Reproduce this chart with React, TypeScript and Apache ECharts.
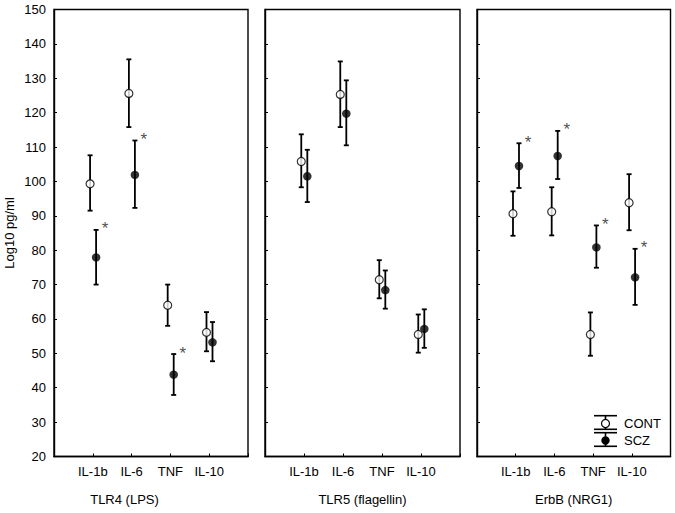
import React, { useEffect, useRef } from "react";
import * as echarts from "echarts";

const categories = ["IL-1b", "IL-6", "TNF", "IL-10"];
const panelTitles = ["TLR4 (LPS)", "TLR5 (flagellin)", "ErbB (NRG1)"];
const yAxisName = "Log10 pg/ml";
const legendNames = ["CONT", "SCZ"];

// TLR4 (LPS)
const tlr4ContMean = [99.3, 125.6, 64.0, 56.1];
const tlr4ContLow = [91.5, 115.8, 58.0, 50.6];
const tlr4ContHigh = [107.6, 135.5, 70.0, 62.0];
const tlr4SczMean = [77.9, 101.9, 43.8, 53.2];
const tlr4SczLow = [70.0, 92.3, 37.9, 47.7];
const tlr4SczHigh = [85.9, 111.9, 49.8, 59.1];
const tlr4Sig = [true, true, true, false];

// TLR5 (flagellin)
const tlr5ContMean = [105.8, 125.3, 71.4, 55.5];
const tlr5ContLow = [98.3, 115.8, 66.0, 50.2];
const tlr5ContHigh = [113.7, 134.9, 77.1, 61.3];
const tlr5SczMean = [101.5, 119.7, 68.4, 57.1];
const tlr5SczLow = [94.0, 110.5, 63.0, 51.6];
const tlr5SczHigh = [109.2, 129.4, 74.1, 62.8];
const tlr5Sig = [false, false, false, false];

// ErbB (NRG1)
const erbbContMean = [90.6, 91.2, 55.5, 93.8];
const erbbContLow = [84.2, 84.3, 49.3, 85.8];
const erbbContHigh = [97.1, 98.3, 61.9, 102.1];
const erbbSczMean = [104.5, 107.4, 80.8, 72.1];
const erbbSczLow = [98.1, 100.7, 74.9, 64.1];
const erbbSczHigh = [111.1, 114.7, 87.2, 80.4];
const erbbSig = [true, true, true, true];

const panels = [
  { cm: tlr4ContMean, cl: tlr4ContLow, ch: tlr4ContHigh, sm: tlr4SczMean, sl: tlr4SczLow, sh: tlr4SczHigh, sig: tlr4Sig },
  { cm: tlr5ContMean, cl: tlr5ContLow, ch: tlr5ContHigh, sm: tlr5SczMean, sl: tlr5SczLow, sh: tlr5SczHigh, sig: tlr5Sig },
  { cm: erbbContMean, cl: erbbContLow, ch: erbbContHigh, sm: erbbSczMean, sl: erbbSczLow, sh: erbbSczHigh, sig: erbbSig },
];

const FONT = '"Liberation Sans", Arial, Helvetica, sans-serif';
const CONT_OFF = -0.07;
const SCZ_OFF = 0.085;

const gridBoxes = [
  { left: 54, width: 194 },
  { left: 265, width: 195 },
  { left: 477, width: 193.5 },
];

function errorBarRender(params: any, api: any) {
  const x = api.value(0);
  const lo = api.coord([x, api.value(1)]);
  const hi = api.coord([x, api.value(2)]);
  const w = 2.5;
  const style = { stroke: "#000", lineWidth: 1.8 };
  return {
    type: "group",
    children: [
      { type: "line", shape: { x1: lo[0], y1: lo[1], x2: hi[0], y2: hi[1] }, style },
      { type: "line", shape: { x1: lo[0] - w, y1: lo[1], x2: lo[0] + w, y2: lo[1] }, style },
      { type: "line", shape: { x1: hi[0] - w, y1: hi[1], x2: hi[0] + w, y2: hi[1] }, style },
    ],
  };
}

export default function App() {
  const ref = useRef<HTMLDivElement>(null);
  useEffect(() => {
    if (!ref.current) return;
    const chart = echarts.init(ref.current, null, { renderer: "svg" });

    const grid: any[] = [];
    const xAxis: any[] = [];
    const yAxis: any[] = [];
    const series: any[] = [];

    panels.forEach((p, k) => {
      grid.push({
        left: gridBoxes[k].left,
        width: gridBoxes[k].width,
        top: 9.5,
        bottom: 56.5,
        show: true,
        borderColor: "#000",
        borderWidth: 1.4,
        backgroundColor: "transparent",
      });
      xAxis.push({
        type: "value",
        gridIndex: k,
        min: 0,
        max: 5,
        interval: 1,
        name: panelTitles[k],
        nameLocation: "middle",
        nameGap: 36,
        nameTextStyle: {
          fontFamily: FONT,
          fontSize: 13,
          color: "#000",
          padding: k === 0 ? [0, 53, 0, 0] : 0,
        },
        axisLine: { show: true, lineStyle: { color: "#000", width: 1.4 } },
        axisTick: { show: true, inside: true, length: 3, lineStyle: { color: "#000" } },
        axisLabel: {
          fontFamily: FONT,
          fontSize: 13,
          color: "#000",
          margin: 8,
          formatter: (v: number) => categories[v - 1] ?? "",
        },
        splitLine: { show: false },
      });
      yAxis.push({
        type: "value",
        gridIndex: k,
        min: 20,
        max: 150,
        interval: 10,
        name: k === 0 ? yAxisName : "",
        nameLocation: "middle",
        nameGap: 38,
        nameTextStyle: { fontFamily: FONT, fontSize: 13, color: "#000" },
        axisLine: { show: true, lineStyle: { color: "#000", width: 1.4 } },
        axisTick: { show: true, inside: true, length: 3, lineStyle: { color: "#000" } },
        axisLabel: {
          show: k === 0,
          fontFamily: FONT,
          fontSize: 13,
          color: "#000",
          margin: 8,
        },
        splitLine: { show: false },
      });

      const contBars = categories.map((_, i) => [i + 1 + CONT_OFF, p.cl[i], p.ch[i]]);
      const sczBars = categories.map((_, i) => [i + 1 + SCZ_OFF, p.sl[i], p.sh[i]]);
      series.push({
        type: "custom",
        xAxisIndex: k,
        yAxisIndex: k,
        renderItem: errorBarRender,
        encode: { x: 0, y: [1, 2] },
        data: contBars,
        z: 2,
      });
      series.push({
        type: "custom",
        xAxisIndex: k,
        yAxisIndex: k,
        renderItem: errorBarRender,
        encode: { x: 0, y: [1, 2] },
        data: sczBars,
        z: 2,
      });
      series.push({
        type: "scatter",
        name: legendNames[0],
        xAxisIndex: k,
        yAxisIndex: k,
        symbol: "circle",
        symbolSize: 8,
        itemStyle: { color: "#fff", borderColor: "#000", borderWidth: 1.2 },
        data: categories.map((_, i) => [i + 1 + CONT_OFF, p.cm[i]]),
        z: 3,
      });
      series.push({
        type: "scatter",
        name: legendNames[1],
        xAxisIndex: k,
        yAxisIndex: k,
        symbol: "circle",
        symbolSize: 8.5,
        itemStyle: { color: "#000", borderColor: "#000", borderWidth: 0 },
        data: categories.map((_, i) => [i + 1 + SCZ_OFF, p.sm[i]]),
        z: 3,
      });
      series.push({
        type: "scatter",
        xAxisIndex: k,
        yAxisIndex: k,
        symbol: "circle",
        symbolSize: 0,
        silent: true,
        data: categories
          .map((_, i) => (p.sig[i] ? [i + 1 + SCZ_OFF, p.sh[i]] : null))
          .filter((d) => d !== null),
        label: {
          show: true,
          formatter: "*",
          position: [9, -1],
          align: "center",
          verticalAlign: "middle",
          fontFamily: FONT,
          fontSize: 17,
          color: "#222",
        },
        z: 4,
      });
    });

    const lx1 = 594;
    const lx2 = 617;
    const lxc = 605.5;
    const lineStyle = { stroke: "#000", lineWidth: 1.6 };
    const graphic: any[] = [
      { type: "line", shape: { x1: lx1, y1: 415.7, x2: lx2, y2: 415.7 }, style: lineStyle },
      { type: "line", shape: { x1: lx1, y1: 429.3, x2: lx2, y2: 429.3 }, style: lineStyle },
      { type: "line", shape: { x1: lxc, y1: 415.7, x2: lxc, y2: 429.3 }, style: lineStyle },
      { type: "circle", shape: { cx: lxc, cy: 423.5, r: 4 }, style: { fill: "#fff", stroke: "#000", lineWidth: 1.2 } },
      { type: "line", shape: { x1: lx1, y1: 432.7, x2: lx2, y2: 432.7 }, style: lineStyle },
      { type: "line", shape: { x1: lx1, y1: 446.3, x2: lx2, y2: 446.3 }, style: lineStyle },
      { type: "line", shape: { x1: lxc, y1: 432.7, x2: lxc, y2: 446.3 }, style: lineStyle },
      { type: "circle", shape: { cx: lxc, cy: 440.5, r: 4.2 }, style: { fill: "#000" } },
      {
        type: "text",
        x: 624,
        y: 423.5,
        style: { text: legendNames[0], fontFamily: FONT, fontSize: 13, fill: "#000", textVerticalAlign: "middle", verticalAlign: "middle" },
      },
      {
        type: "text",
        x: 624,
        y: 440.7,
        style: { text: legendNames[1], fontFamily: FONT, fontSize: 13, fill: "#000", textVerticalAlign: "middle", verticalAlign: "middle" },
      },
    ];

    chart.setOption({
      animation: false,
      backgroundColor: "#fff",
      textStyle: { fontFamily: FONT },
      grid,
      xAxis,
      yAxis,
      series,
      graphic,
    });
    return () => chart.dispose();
  }, []);

  return (
    <div
      ref={ref}
      style={{ position: "absolute", left: 0, top: 0, width: 675, height: 513 }}
    />
  );
}
